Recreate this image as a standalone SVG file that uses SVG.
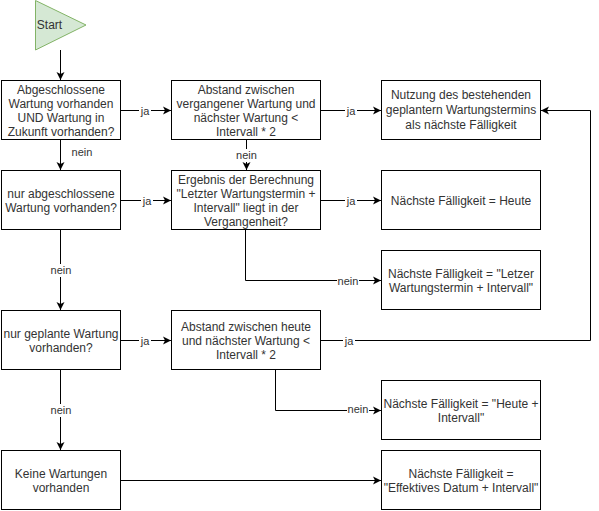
<svg xmlns="http://www.w3.org/2000/svg" width="599" height="511" viewBox="0 0 599 511">
<defs>
<marker id="arr" markerWidth="10" markerHeight="10" refX="9" refY="5" orient="auto" markerUnits="userSpaceOnUse">
<path d="M1,1 L9,5 L1,9 L3,5 Z" fill="#000"/>
</marker>
<style>
.box{fill:#fff;stroke:#000;stroke-width:1}
.t{font-family:"Liberation Sans",Arial,sans-serif;font-size:12px;fill:#333;text-anchor:middle}
.l{font-family:"Liberation Sans",Arial,sans-serif;font-size:11px;fill:#333;text-anchor:middle}
.e{fill:none;stroke:#000;stroke-width:1}
.lb{fill:#fff}
</style>
</defs>
<rect width="599" height="511" fill="#fff"/>
<g id="connectors">
<path class="e" d="M60.5,50 V80" marker-end="url(#arr)"/>
<path class="e" d="M121,110.5 H171" marker-end="url(#arr)"/>
<path class="e" d="M321,110.5 H381" marker-end="url(#arr)"/>
<path class="e" d="M60.5,140 V170" marker-end="url(#arr)"/>
<path class="e" d="M246.5,140 V170" marker-end="url(#arr)"/>
<path class="e" d="M121,200.5 H171" marker-end="url(#arr)"/>
<path class="e" d="M321,200.5 H381" marker-end="url(#arr)"/>
<path class="e" d="M245.5,230 V280.5 H381" marker-end="url(#arr)"/>
<path class="e" d="M60.5,230 V310" marker-end="url(#arr)"/>
<path class="e" d="M121,340.5 H171" marker-end="url(#arr)"/>
<path class="e" d="M321,340.5 H590.5 V110.5 H541" marker-end="url(#arr)"/>
<path class="e" d="M275.5,370 V410.5 H381" marker-end="url(#arr)"/>
<path class="e" d="M60.5,370 V450" marker-end="url(#arr)"/>
<path class="e" d="M121,480.5 H381" marker-end="url(#arr)"/>
<g id="labels">
<rect class="lb" x="139" y="104" width="12" height="13"/><text class="l" x="145" y="114.5">ja</text>
<rect class="lb" x="345" y="104" width="12" height="13"/><text class="l" x="351" y="114.5">ja</text>
<text class="l" x="82" y="155.5">nein</text>
<rect class="lb" x="235" y="149" width="22" height="13"/><text class="l" x="246.5" y="159">nein</text>
<rect class="lb" x="141" y="194" width="12" height="13"/><text class="l" x="147" y="204.5">ja</text>
<rect class="lb" x="345" y="194" width="12" height="13"/><text class="l" x="351" y="204.5">ja</text>
<rect class="lb" x="337" y="274" width="22" height="13"/><text class="l" x="348" y="284.5">nein</text>
<rect class="lb" x="50" y="264" width="22" height="13"/><text class="l" x="61" y="274">nein</text>
<rect class="lb" x="139" y="334" width="12" height="13"/><text class="l" x="145" y="344.5">ja</text>
<rect class="lb" x="343" y="334" width="12" height="13"/><text class="l" x="349" y="345">ja</text>
<rect class="lb" x="347" y="404" width="22" height="13"/><text class="l" x="358" y="413">nein</text>
<rect class="lb" x="50" y="404" width="22" height="13"/><text class="l" x="61" y="414">nein</text>
</g>
</g>
<g id="start">
<path d="M35.5,0.5 L86,25 L35.5,50 Z" fill="#d5e8d4" stroke="#82b366"/>
<text class="t" x="49.5" y="29">Start</text>
</g>
<g id="n1">
<rect class="box" x="1.5" y="80.5" width="119" height="59"/>
<text class="t" x="61" y="94">Abgeschlossene</text>
<text class="t" x="61" y="108">Wartung vorhanden</text>
<text class="t" x="61" y="122">UND Wartung in</text>
<text class="t" x="61" y="136">Zukunft vorhanden?</text>
</g>
<g id="n2">
<rect class="box" x="171.5" y="80.5" width="149" height="59"/>
<text class="t" x="246" y="94">Abstand zwischen</text>
<text class="t" x="246" y="108">vergangener Wartung und</text>
<text class="t" x="246" y="122">nächster Wartung &lt;</text>
<text class="t" x="246" y="136">Intervall * 2</text>
</g>
<g id="n3">
<rect class="box" x="381.5" y="80.5" width="159" height="59"/>
<text class="t" x="461" y="98.5">Nutzung des bestehenden</text>
<text class="t" x="461" y="114">geplantern Wartungstermins</text>
<text class="t" x="461" y="128.5">als nächste Fälligkeit</text>
</g>
<g id="n4">
<rect class="box" x="1.5" y="170.5" width="119" height="59"/>
<text class="t" x="61" y="198">nur abgeschlossene</text>
<text class="t" x="61" y="212">Wartung vorhanden?</text>
</g>
<g id="n5">
<rect class="box" x="171.5" y="170.5" width="149" height="59"/>
<text class="t" x="246" y="184">Ergebnis der Berechnung</text>
<text class="t" x="246" y="198">"Letzter Wartungstermin +</text>
<text class="t" x="246" y="212">Intervall" liegt in der</text>
<text class="t" x="246" y="226">Vergangenheit?</text>
</g>
<g id="n6">
<rect class="box" x="381.5" y="170.5" width="159" height="59"/>
<text class="t" x="461" y="204.5">Nächste Fälligkeit = Heute</text>
</g>
<g id="n7">
<rect class="box" x="381.5" y="250.5" width="159" height="59"/>
<text class="t" x="461" y="278">Nächste Fälligkeit = "Letzer</text>
<text class="t" x="461" y="292">Wartungstermin + Intervall"</text>
</g>
<g id="n8">
<rect class="box" x="1.5" y="310.5" width="119" height="59"/>
<text class="t" x="61" y="338">nur geplante Wartung</text>
<text class="t" x="61" y="352">vorhanden?</text>
</g>
<g id="n9">
<rect class="box" x="171.5" y="310.5" width="149" height="59"/>
<text class="t" x="246" y="331">Abstand zwischen heute</text>
<text class="t" x="246" y="345">und nächster Wartung &lt;</text>
<text class="t" x="246" y="359">Intervall * 2</text>
</g>
<g id="n10">
<rect class="box" x="381.5" y="380.5" width="159" height="59"/>
<text class="t" x="461" y="408">Nächste Fälligkeit = "Heute +</text>
<text class="t" x="461" y="422">Intervall"</text>
</g>
<g id="n11">
<rect class="box" x="1.5" y="450.5" width="119" height="59"/>
<text class="t" x="61" y="478">Keine Wartungen</text>
<text class="t" x="61" y="492">vorhanden</text>
</g>
<g id="n12">
<rect class="box" x="381.5" y="450.5" width="159" height="59"/>
<text class="t" x="461" y="478">Nächste Fälligkeit =</text>
<text class="t" x="461" y="492">"Effektives Datum + Intervall"</text>
</g>
</svg>
